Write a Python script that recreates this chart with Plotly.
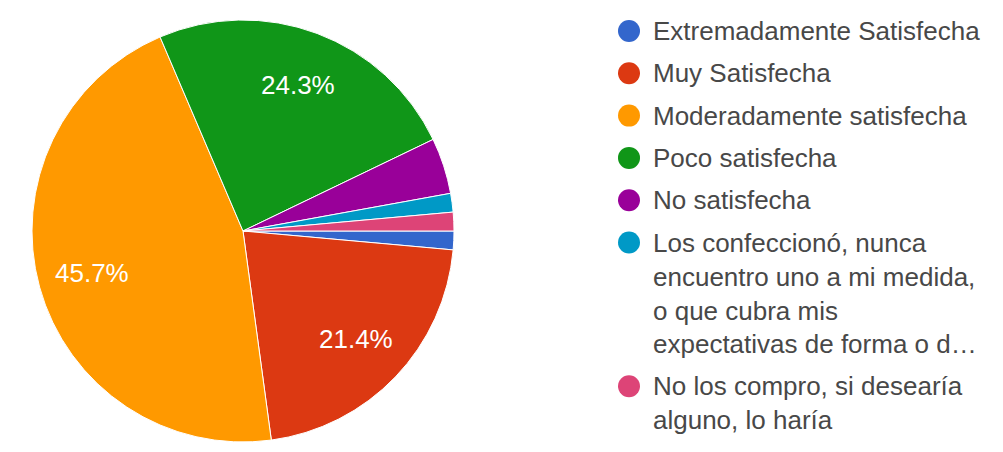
import math
import plotly.graph_objects as go

# Survey answers and their response counts
categories = [
    "Extremadamente Satisfecha",
    "Muy Satisfecha",
    "Moderadamente satisfecha",
    "Poco satisfecha",
    "No satisfecha",
    "Los confeccionó, nunca<br>encuentro uno a mi medida,<br>o que cubra mis<br>expectativas de forma o d…",
    "No los compro, si desearía<br>alguno, lo haría",
]
counts = [1, 15, 32, 17, 3, 1, 1]
colors = ["#3366cc", "#dc3912", "#ff9900", "#109618", "#990099", "#0099c6", "#dd4477"]

W, H = 1003, 452
# pie placement in pixels
CX, CY, R = 243, 231, 211
START_DEG = 90  # first slice begins at 3 o'clock, slices run clockwise
FONT = "Liberation Sans, Arial, sans-serif"

fig = go.Figure()
fig.add_trace(go.Pie(
    labels=[c.replace("<br>", " ") for c in categories],
    values=counts,
    marker=dict(colors=colors, line=dict(color="white", width=1)),
    sort=False,
    direction="clockwise",
    rotation=START_DEG,
    textinfo="none",
    hoverinfo="label+percent",
    showlegend=False,
    domain=dict(x=[(CX - R) / W, (CX + R) / W],
                y=[(H - CY - R) / H, (H - CY + R) / H]),
))

annotations = []
shapes = []

# percentage labels placed at each slice's mid-angle
total = sum(counts)
acc = 0.0
for v in counts:
    frac = v / total
    mid = math.radians(START_DEG + 360 * (acc + frac / 2))
    acc += frac
    if frac < 0.1:
        continue
    px = CX + 0.74 * R * math.sin(mid)
    py = CY - 0.74 * R * math.cos(mid)
    annotations.append(dict(
        x=px / W, y=1 - py / H, xref="paper", yref="paper",
        text=f"{frac * 100:.1f}%", showarrow=False,
        font=dict(family=FONT, size=26, color="white"),
        xanchor="center", yanchor="middle",
    ))

# legend: colored dot plus wrapped label for each answer
LEG_SIZE = 26
LINE_H = 1.3 * LEG_SIZE
GAP = 8.5
DOT_X, DOT_R = 629, 11
TEXT_X = 651
y_line = 31
for name, col in zip(categories, colors):
    n = name.count("<br>") + 1
    shapes.append(dict(
        type="circle", xref="paper", yref="paper",
        x0=(DOT_X - DOT_R) / W, x1=(DOT_X + DOT_R) / W,
        y0=1 - (y_line + DOT_R) / H, y1=1 - (y_line - DOT_R) / H,
        fillcolor=col, line=dict(width=0),
    ))
    yc = y_line + (n - 1) * LINE_H / 2
    annotations.append(dict(
        x=TEXT_X / W, y=1 - yc / H, xref="paper", yref="paper",
        text=name, showarrow=False, align="left",
        font=dict(family=FONT, size=LEG_SIZE, color="#484848"),
        xanchor="left", yanchor="middle",
    ))
    y_line += n * LINE_H + GAP

fig.update_layout(
    width=W, height=H, autosize=False,
    margin=dict(l=0, r=0, t=0, b=0),
    paper_bgcolor="white", plot_bgcolor="white",
    annotations=annotations, shapes=shapes,
)

fig.write_html("out.html")
